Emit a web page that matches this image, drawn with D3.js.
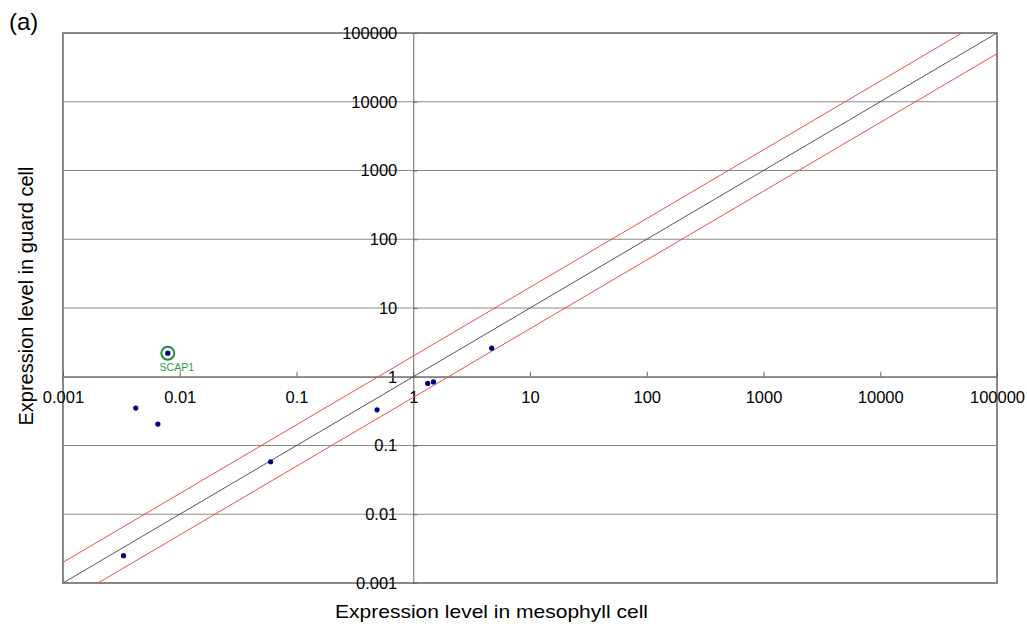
<!DOCTYPE html>
<html>
<head>
<meta charset="utf-8">
<script src="https://cdn.jsdelivr.net/npm/d3@7"></script>
<style>
  body { margin: 0; background: #fff; }
  svg { font-family: "Liberation Sans", Arial, sans-serif; }
</style>
</head>
<body>
<svg id="chart" width="1027" height="630"></svg>
<script>
(function () {
    // data
    const mesophyll = [0.0079, 0.0042, 0.0065, 0.060, 0.0033, 0.49, 1.33, 1.49, 4.7];
    const guard = [2.2, 0.35, 0.205, 0.058, 0.0025, 0.33, 0.80, 0.84, 2.6];
    const highlighted = ["SCAP1", "", "", "", "", "", "", "", ""];
    const tickValues = [0.001, 0.01, 0.1, 1, 10, 100, 1000, 10000, 100000];
    const tickLabels = ["0.001", "0.01", "0.1", "1", "10", "100", "1000", "10000", "100000"];
    const ratios = [1, 2, 0.5]; // guard = ratio * mesophyll

    const data = mesophyll.map((m, i) => ({ x: m, y: guard[i], name: highlighted[i] }));

    const left = 63, top = 33, right = 997, bottom = 583;
    const svg = d3.select("#chart");

    const x = d3.scaleLog().domain([0.001, 100000]).range([left, right]);
    const y = d3.scaleLog().domain([0.001, 100000]).range([bottom, top]);

    svg.append("defs").append("clipPath").attr("id", "plot")
        .append("rect").attr("x", left).attr("y", top)
        .attr("width", right - left).attr("height", bottom - top);

    // horizontal gridlines
    svg.append("g")
        .selectAll("line")
        .data(tickValues)
        .enter()
        .append("line")
        .attr("x1", left).attr("x2", right)
        .attr("y1", d => y(d)).attr("y2", d => y(d))
        .attr("stroke", "#8a8a8a")
        .attr("stroke-width", 1);

    // plot border
    svg.append("rect")
        .attr("x", left).attr("y", top)
        .attr("width", right - left).attr("height", bottom - top)
        .attr("fill", "none")
        .attr("stroke", "#888")
        .attr("stroke-width", 2);

    // y axis crossing at x = 1
    const yAxis = d3.axisRight(y)
        .tickValues(tickValues)
        .tickFormat((d, i) => tickLabels[i])
        .tickSize(4)
        .tickSizeOuter(0);
    const gy = svg.append("g")
        .attr("transform", `translate(${x(1)},0)`)
        .call(yAxis);
    gy.select(".domain").attr("stroke", "#666");
    gy.selectAll(".tick line").attr("stroke", "#666");
    gy.selectAll(".tick text")
        .attr("x", -16)
        .attr("text-anchor", "end")
        .attr("font-size", 16.5)
        .attr("fill", "#000");

    // x axis crossing at y = 1
    const xAxis = d3.axisTop(x)
        .tickValues(tickValues)
        .tickFormat((d, i) => tickLabels[i])
        .tickSize(5)
        .tickSizeOuter(0);
    const gx = svg.append("g")
        .attr("transform", `translate(0,${y(1)})`)
        .call(xAxis);
    gx.select(".domain").attr("stroke", "#666");
    gx.selectAll(".tick line").attr("stroke", "#666");
    gx.selectAll(".tick text")
        .attr("y", 26)
        .attr("dy", 0)
        .attr("font-size", 16.5)
        .attr("fill", "#000");

    // ratio lines
    const [xmin, xmax] = x.domain();
    svg.append("g")
        .attr("clip-path", "url(#plot)")
        .selectAll("line")
        .data(ratios)
        .enter()
        .append("line")
        .attr("x1", x(xmin)).attr("y1", d => y(xmin * d))
        .attr("x2", x(xmax)).attr("y2", d => y(xmax * d))
        .attr("stroke", d => d === 1 ? "#555" : "#f04a4a")
        .attr("stroke-width", 1);

    // points
    svg.append("g")
        .selectAll("circle")
        .data(data)
        .enter()
        .append("circle")
        .attr("cx", d => x(d.x))
        .attr("cy", d => y(d.y))
        .attr("r", 2.6)
        .attr("fill", "#000080");

    // highlighted gene
    const hl = data.filter(d => d.name);
    svg.append("g")
        .selectAll("circle")
        .data(hl)
        .enter()
        .append("circle")
        .attr("cx", d => x(d.x))
        .attr("cy", d => y(d.y))
        .attr("r", 6.5)
        .attr("fill", "none")
        .attr("stroke", "#1e8a3c")
        .attr("stroke-width", 2);
    svg.append("g")
        .selectAll("text")
        .data(hl)
        .enter()
        .append("text")
        .attr("x", d => x(d.x) + 9)
        .attr("y", d => y(d.y) + 18)
        .attr("text-anchor", "middle")
        .attr("font-size", 10.5)
        .attr("fill", "#2e9a4c")
        .text(d => d.name);

    // titles
    svg.append("text")
        .attr("x", 9).attr("y", 30)
        .attr("font-size", 24)
        .text("(a)");
    svg.append("text")
        .attr("x", 335).attr("y", 618)
        .attr("font-size", 19)
        .attr("textLength", 313)
        .attr("lengthAdjust", "spacingAndGlyphs")
        .text("Expression level in mesophyll cell");
    svg.append("text")
        .attr("transform", `translate(33,296) rotate(-90)`)
        .attr("text-anchor", "middle")
        .attr("font-size", 20)
        .text("Expression level in guard cell");
})();
</script>
</body>
</html>
